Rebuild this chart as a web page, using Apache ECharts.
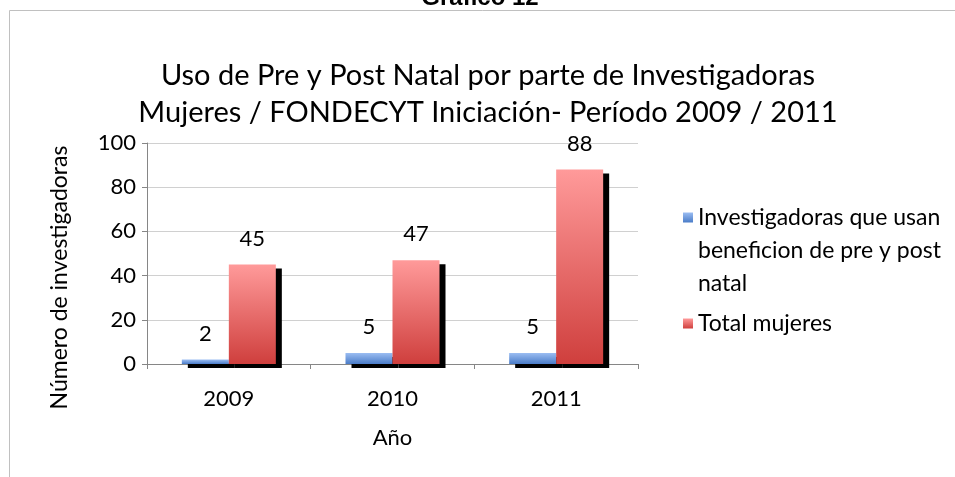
<!DOCTYPE html>
<html>
<head>
<meta charset="utf-8">
<script src="https://cdn.jsdelivr.net/npm/echarts@6/dist/echarts.min.js"></script>
<style>
html,body{margin:0;padding:0;background:#fff;}
#chart{width:955px;height:477px;}
</style>
</head>
<body>
<div id="chart"></div>
<script>
const categories = ['2009', '2010', '2011'];
const seriesNames = ['Investigadoras que usan beneficion de pre y post natal', 'Total mujeres'];
const usanBeneficio = [2, 5, 5];
const totalMujeres = [45, 47, 88];
const yTicks = [0, 20, 40, 60, 80, 100];

const FONT = 'Lato';
const chart = echarts.init(document.getElementById('chart'), null, {renderer: 'canvas'});

const blueGrad = new echarts.graphic.LinearGradient(0, 0, 0, 1, [
  {offset: 0, color: '#9bbdf2'}, {offset: 1, color: '#4a7cc8'}]);
const redGrad = new echarts.graphic.LinearGradient(0, 0, 0, 1, [
  {offset: 0, color: '#ff9a9a'}, {offset: 1, color: '#cf3f3d'}]);

const shadow = {shadowColor: '#000', shadowBlur: 0, shadowOffsetX: 6, shadowOffsetY: 4};
const labelStyle = {show: true, position: 'top', distance: 15, fontSize: 22, color: '#000', fontFamily: FONT};

chart.setOption({
  animation: false,
  backgroundColor: '#fff',
  graphic: [
    {type: 'rect', silent: true, shape: {x: 9.5, y: 10.5, width: 1000, height: 500},
     style: {fill: 'none', stroke: '#c0c0c0', lineWidth: 1}},
    {type: 'text', silent: true, x: 480, y: 10,
     style: {text: 'Gráfico 12', fontSize: 24, fontWeight: 'bold', fontFamily: 'Liberation Sans', fill: '#000',
             align: 'center', verticalAlign: 'bottom'}}
  ],
  title: {
    text: 'Uso de Pre y Post Natal por parte de Investigadoras\nMujeres / FONDECYT Iniciación- Período 2009 / 2011',
    left: 488, top: 57, padding: 0,
    textAlign: 'center',
    textStyle: {fontSize: 29, fontWeight: 'normal', fontFamily: FONT, color: '#000', lineHeight: 37}
  },
  legend: {
    orient: 'vertical',
    left: 683, top: 135, padding: 0, itemGap: 7,
    itemWidth: 10, itemHeight: 10, icon: 'rect',
    formatter: function (name) {
      if (name === seriesNames[0]) return '\n\nInvestigadoras que usan\nbeneficion de pre y post\nnatal';
      return name;
    },
    textStyle: {fontSize: 23, fontFamily: FONT, color: '#000', lineHeight: 33, padding: [0, 0, 0, 0]},
    data: seriesNames
  },
  grid: {left: 147, right: 317, top: 143, bottom: 113},
  xAxis: {
    type: 'category', data: categories,
    name: 'Año', nameLocation: 'middle', nameGap: 63,
    nameTextStyle: {fontSize: 22, fontFamily: FONT, color: '#000'},
    axisLine: {lineStyle: {color: '#868686'}},
    axisTick: {show: true, length: 5, lineStyle: {color: '#868686'}},
    axisLabel: {fontSize: 22, fontFamily: FONT, color: '#000', margin: 24}
  },
  yAxis: {
    type: 'value', min: yTicks[0], max: yTicks[yTicks.length - 1], interval: yTicks[1] - yTicks[0],
    name: 'Número de investigadoras', nameLocation: 'middle', nameGap: 76, nameRotate: 90,
    nameTextStyle: {fontSize: 23, fontFamily: FONT, color: '#000', padding: [0, 48, 0, 0]},
    axisLine: {show: true, lineStyle: {color: '#868686'}},
    axisTick: {show: true, length: 5, lineStyle: {color: '#868686'}},
    axisLabel: {fontSize: 22, fontFamily: FONT, color: '#000', margin: 11},
    splitLine: {lineStyle: {color: '#d0d0d0'}}
  },
  series: [
    {name: seriesNames[0], type: 'bar', data: usanBeneficio, barWidth: 47, barGap: '0%',
     itemStyle: Object.assign({color: blueGrad}, shadow), label: labelStyle},
    {name: seriesNames[1], type: 'bar', data: totalMujeres, barWidth: 47, barGap: '0%',
     itemStyle: Object.assign({color: redGrad}, shadow), label: labelStyle}
  ]
});
</script>
</body>
</html>
